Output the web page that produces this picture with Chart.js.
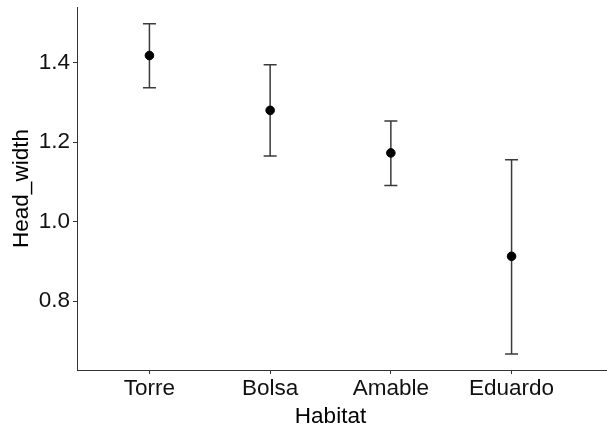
<!DOCTYPE html>
<html>
<head>
<meta charset="utf-8">
<script src="https://cdn.jsdelivr.net/npm/chart.js@4"></script>
<style>
  html, body { margin: 0; padding: 0; background: #fff; }
  #wrap { width: 607px; height: 430px; }
</style>
</head>
<body>
<div id="wrap"><canvas id="c" width="607" height="430"></canvas></div>
<script>
// Head width by habitat: mean with lower/upper interval
const habitats = ['Torre', 'Bolsa', 'Amable', 'Eduardo'];
const means = [1.418, 1.280, 1.173, 0.913];
const upper = [1.498, 1.395, 1.253, 1.156];
const lower = [1.337, 1.165, 1.091, 0.667];
const yTicks = [0.8, 1.0, 1.2, 1.4];

const FONT = 'Liberation Sans, Arial, sans-serif';
const AXIS = '#333333';

// Vertical interval bars with end caps, drawn beneath the points
const errorBars = {
  id: 'errorBars',
  beforeDatasetsDraw(chart) {
    const { ctx, scales: { x, y } } = chart;
    ctx.save();
    ctx.strokeStyle = '#3a3a3a';
    ctx.lineWidth = 1.5;
    const half = 6.5;
    habitats.forEach((_, i) => {
      const px = x.getPixelForValue(i);
      const yt = y.getPixelForValue(upper[i]);
      const yb = y.getPixelForValue(lower[i]);
      ctx.beginPath();
      ctx.moveTo(px, yt); ctx.lineTo(px, yb);
      ctx.moveTo(px - half, yt); ctx.lineTo(px + half, yt);
      ctx.moveTo(px - half, yb); ctx.lineTo(px + half, yb);
      ctx.stroke();
    });
    ctx.restore();
  },
  // bottom axis line runs on to the right edge of the canvas
  afterDraw(chart) {
    const { ctx, chartArea } = chart;
    ctx.save();
    ctx.strokeStyle = AXIS;
    ctx.lineWidth = 1;
    ctx.beginPath();
    ctx.moveTo(chartArea.right, chartArea.bottom + 0.5);
    ctx.lineTo(chart.width, chartArea.bottom + 0.5);
    ctx.stroke();
    ctx.restore();
  }
};

new Chart(document.getElementById('c'), {
  type: 'scatter',
  data: {
    datasets: [{
      data: habitats.map((h, i) => ({ x: i, y: means[i] })),
      backgroundColor: '#000',
      borderColor: '#000',
      pointRadius: 4.3,
      pointHoverRadius: 4.3
    }]
  },
  options: {
    responsive: false,
    animation: false,
    devicePixelRatio: 1,
    layout: { padding: { top: 7, right: 23, left: 0, bottom: 0 } },
    plugins: { legend: { display: false }, tooltip: { enabled: false } },
    scales: {
      x: {
        type: 'linear',
        min: -0.6,
        max: 3.6,
        afterBuildTicks: s => { s.ticks = habitats.map((_, i) => ({ value: i })); },
        afterFit: s => { s.height = 60; s.paddingLeft = 0; s.paddingRight = 0; },
        ticks: {
          callback: v => habitats[v],
          color: '#111',
          font: { family: FONT, size: 22.5 },
          padding: 1,
          maxRotation: 0,
          autoSkip: false
        },
        grid: { display: true, drawOnChartArea: false, color: AXIS, tickLength: 4, tickWidth: 1 },
        border: { display: true, color: AXIS, width: 1 },
        title: {
          display: true,
          text: 'Habitat',
          color: '#000',
          font: { family: FONT, size: 22.5 },
          padding: { top: 6, bottom: 0 }
        }
      },
      y: {
        min: 0.627,
        max: 1.54,
        afterBuildTicks: s => { s.ticks = yTicks.map(v => ({ value: v })); },
        afterFit: s => { s.width = 77; s.paddingTop = 0; s.paddingBottom = 0; },
        ticks: {
          callback: v => v.toFixed(1),
          color: '#111',
          font: { family: FONT, size: 22.5 },
          padding: 3
        },
        grid: { display: true, drawOnChartArea: false, color: AXIS, tickLength: 4, tickWidth: 1 },
        border: { display: true, color: AXIS, width: 1 },
        title: {
          display: true,
          text: 'Head_width',
          color: '#000',
          font: { family: FONT, size: 22.5 },
          padding: { top: 8, bottom: 0 }
        }
      }
    }
  },
  plugins: [errorBars]
});
</script>
</body>
</html>
